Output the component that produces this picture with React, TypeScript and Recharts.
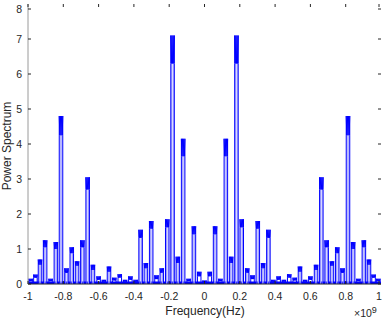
import React from "react";
import {
  LineChart,
  Line,
  XAxis,
  YAxis,
  ReferenceArea,
} from "recharts";

// peak centres (x 1e9 Hz), plateau tops and bottom of the noisy top band
const PEAK_X = [
  -0.985, -0.958, -0.932, -0.903, -0.872, -0.842, -0.813, -0.782, -0.752, -0.722,
  -0.692, -0.662, -0.632, -0.6, -0.57, -0.541, -0.511, -0.48, -0.45, -0.42,
  -0.39, -0.362, -0.332, -0.302, -0.272, -0.242, -0.211, -0.181, -0.151, -0.121,
  -0.09, -0.06, -0.03, 0.0, 0.03, 0.06, 0.09, 0.121, 0.151, 0.181,
  0.211, 0.242, 0.272, 0.302, 0.332, 0.362, 0.39, 0.42, 0.45, 0.48,
  0.511, 0.541, 0.57, 0.6, 0.632, 0.662, 0.692, 0.722, 0.752, 0.782,
  0.813, 0.842, 0.872, 0.903, 0.932, 0.958, 0.985,
];
const PEAK_TOP = [
  0.15, 0.27, 0.7, 1.25, 0.15, 1.2, 4.8, 0.45, 1.05, 0.65,
  1.25, 3.05, 0.55, 0.22, 0.12, 0.5, 0.18, 0.28, 0.12, 0.22,
  0.12, 1.55, 0.6, 1.8, 0.25, 0.45, 1.85, 7.1, 0.78, 4.15,
  0.15, 1.65, 0.35, 0.1, 0.35, 1.65, 0.15, 4.15, 0.78, 7.1,
  1.85, 0.45, 0.25, 1.8, 0.6, 1.55, 0.12, 0.22, 0.12, 0.28,
  0.18, 0.5, 0.12, 0.22, 0.55, 3.05, 1.25, 0.65, 1.05, 0.45,
  4.8, 1.2, 0.15, 1.25, 0.7, 0.27, 0.15,
];
const PEAK_DIP = [
  0.08, 0.18, 0.55, 1.05, 0.08, 1.0, 4.25, 0.32, 0.88, 0.52,
  1.05, 2.7, 0.4, 0.12, 0.06, 0.35, 0.1, 0.18, 0.06, 0.12,
  0.06, 1.32, 0.45, 1.58, 0.14, 0.32, 1.62, 6.3, 0.6, 3.65,
  0.08, 1.42, 0.22, 0.05, 0.22, 1.42, 0.08, 3.65, 0.6, 6.3,
  1.62, 0.32, 0.14, 1.58, 0.45, 1.32, 0.06, 0.12, 0.06, 0.18,
  0.1, 0.35, 0.06, 0.12, 0.4, 2.7, 1.05, 0.52, 0.88, 0.32,
  4.25, 1.0, 0.08, 1.05, 0.55, 0.18, 0.08,
];

const X_TICKS = [-1, -0.8, -0.6, -0.4, -0.2, 0, 0.2, 0.4, 0.6, 0.8, 1];
const Y_TICKS = [0, 1, 2, 3, 4, 5, 6, 7, 8];

const BLUE = "#0000ff";
const LIGHT = "#9a9aff";
const AXIS = "#262626";
const FONT = "'Liberation Sans', Arial, Helvetica, sans-serif";

const W = 0.01;
const TEETH = 6;

// outline of each pulse: edges up to the band, jagged top between top and dip
const spectrum: { x: number; y: number }[] = [];
const inner: { x: number; y: number | null }[] = [];
PEAK_X.forEach((c, i) => {
  const top = PEAK_TOP[i];
  const dip = PEAK_DIP[i];
  spectrum.push({ x: c - W, y: 0.03 });
  spectrum.push({ x: c - W, y: dip });
  for (let j = 0; j <= TEETH; j++) {
    spectrum.push({ x: c - W + (j * 2 * W) / TEETH, y: j % 2 === 0 ? top : dip });
  }
  spectrum.push({ x: c + W, y: dip });
  spectrum.push({ x: c + W, y: 0.03 });
  if (top > 0.4) {
    inner.push({ x: c - W * 0.45, y: 0 });
    inner.push({ x: c - W * 0.45, y: dip });
    inner.push({ x: c - W * 0.45, y: null });
    inner.push({ x: c + W * 0.45, y: dip });
    inner.push({ x: c + W * 0.45, y: 0 });
    inner.push({ x: c + W * 0.45, y: null });
  }
});

const LEFT = 28;
const RIGHT = 381;
const TOP = 4;
const BOTTOM = 284;

const XTick = (props: any) => {
  const { x, payload } = props;
  return (
    <g>
      <line x1={x} y1={BOTTOM} x2={x} y2={BOTTOM - 3} stroke={AXIS} />
      <line x1={x} y1={TOP} x2={x} y2={TOP + 3} stroke={AXIS} />
      <text x={x} y={300} textAnchor="middle" fontSize={10.5} fill={AXIS} fontFamily={FONT}>
        {String(payload.value)}
      </text>
    </g>
  );
};

const YTick = (props: any) => {
  const { y, payload } = props;
  return (
    <g>
      <line x1={LEFT} y1={y} x2={LEFT + 3} y2={y} stroke={AXIS} />
      <line x1={RIGHT} y1={y} x2={RIGHT - 3} y2={y} stroke={AXIS} />
      <text x={22} y={y + 3.5} textAnchor="end" fontSize={10.5} fill={AXIS} fontFamily={FONT}>
        {payload.value}
      </text>
    </g>
  );
};

export default function App() {
  return (
    <div style={{ position: "absolute", left: 0, top: 0, width: 383, height: 320, background: "#fff" }}>
      <LineChart
        width={383}
        height={320}
        margin={{ top: TOP, right: 383 - RIGHT, left: 0, bottom: 0 }}
      >
        <XAxis
          type="number"
          dataKey="x"
          domain={[-1, 1]}
          ticks={X_TICKS}
          height={320 - BOTTOM}
          tick={<XTick />}
          tickLine={false}
          axisLine={{ stroke: AXIS }}
          allowDataOverflow
        />
        <XAxis xAxisId="top" type="number" orientation="top" domain={[-1, 1]} height={0} tick={false} tickLine={false} axisLine={{ stroke: AXIS }} />
        <YAxis
          type="number"
          domain={[0, 8]}
          ticks={Y_TICKS}
          width={LEFT}
          tick={<YTick />}
          tickLine={false}
          axisLine={{ stroke: "#9a9a9a" }}
          allowDataOverflow
        />
        <YAxis yAxisId="right" orientation="right" domain={[0, 8]} width={0} tick={false} tickLine={false} axisLine={{ stroke: "#9a9a9a" }} />
        <ReferenceArea x1={-1} x2={1} y1={0} y2={0.07} fill={BLUE} fillOpacity={1} stroke="none" />
        <Line
          data={inner}
          dataKey="y"
          stroke={LIGHT}
          strokeWidth={1}
          dot={false}
          connectNulls={false}
          isAnimationActive={false}
        />
        <Line
          data={spectrum}
          dataKey="y"
          stroke={BLUE}
          strokeWidth={1}
          dot={false}
          isAnimationActive={false}
        />
      </LineChart>
      <div
        style={{
          position: "absolute",
          left: 205,
          top: 304,
          transform: "translateX(-50%)",
          fontFamily: FONT,
          fontSize: 12,
          color: AXIS,
          whiteSpace: "nowrap",
        }}
      >
        Frequency(Hz)
      </div>
      <div
        style={{
          position: "absolute",
          left: 7,
          top: 146,
          transform: "translate(-50%, -50%) rotate(-90deg)",
          fontFamily: FONT,
          fontSize: 12,
          color: AXIS,
          whiteSpace: "nowrap",
        }}
      >
        Power Spectrum
      </div>
      <div
        style={{
          position: "absolute",
          left: 354,
          top: 305,
          fontFamily: FONT,
          fontSize: 10.5,
          color: AXIS,
          whiteSpace: "nowrap",
        }}
      >
        ×10<sup style={{ fontSize: 9, verticalAlign: "4px" }}>9</sup>
      </div>
    </div>
  );
}
